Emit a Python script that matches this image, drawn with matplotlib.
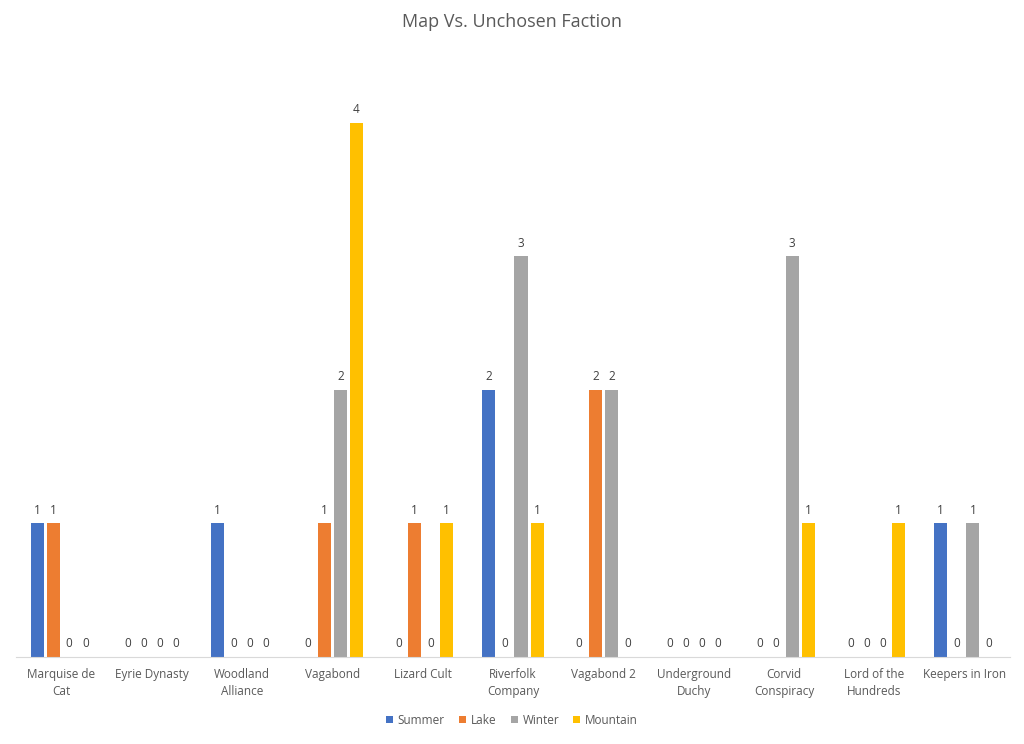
import numpy as np
import matplotlib.pyplot as plt

plt.rcParams['font.family'] = ['Open Sans', 'DejaVu Sans']

categories = ['Marquise de\nCat', 'Eyrie Dynasty', 'Woodland\nAlliance', 'Vagabond', 'Lizard Cult',
              'Riverfolk\nCompany', 'Vagabond 2', 'Underground\nDuchy', 'Corvid\nConspiracy',
              'Lord of the\nHundreds', 'Keepers in Iron']
series = ['Summer', 'Lake', 'Winter', 'Mountain']
summer = [1, 0, 1, 0, 0, 2, 0, 0, 0, 0, 1]
lake = [1, 0, 0, 1, 1, 0, 2, 0, 0, 0, 0]
winter = [0, 0, 0, 2, 0, 3, 2, 0, 3, 0, 1]
mountain = [0, 0, 0, 4, 1, 1, 0, 0, 1, 1, 0]
colors = ['#4472C4', '#ED7D31', '#A5A5A5', '#FFC000']

fig = plt.figure(figsize=(10.24, 7.44), dpi=100)
ax = fig.add_axes([16/1024, 1-657/744, 994/1024, 601/744])
x = np.arange(len(categories))
w = 0.145
step = 0.178
for i, (name, vals) in enumerate(zip(series, [summer, lake, winter, mountain])):
    pos = x + (i - 1.5) * step
    bars = ax.bar(pos, vals, w, color=colors[i], label=name)
    for p, v in zip(pos, vals):
        ax.text(p, v + 0.05, str(v), ha='center', va='bottom', fontsize=8.5, color='#404040')

ax.set_xlim(-0.5, len(categories) - 0.5)
ax.set_ylim(0, 4.5)
ax.set_yticks([])
ax.set_xticks(x)
ax.set_xticklabels(categories, fontsize=8.5, color='#595959', linespacing=1.4)
ax.tick_params(axis='x', length=0, pad=8)
for s in ['top', 'right', 'left']:
    ax.spines[s].set_visible(False)
ax.spines['bottom'].set_color('#D9D9D9')

fig.suptitle('Map Vs. Unchosen Faction', y=0.983, fontsize=13, color='#595959')
fig.legend(loc='center', bbox_to_anchor=(0.5, 1-720/744), ncol=4, frameon=False,
           fontsize=8.5, handlelength=0.6, handleheight=0.6, columnspacing=1.2,
           handletextpad=0.4, labelcolor='#595959')
fig.savefig('out.png', dpi=100)
